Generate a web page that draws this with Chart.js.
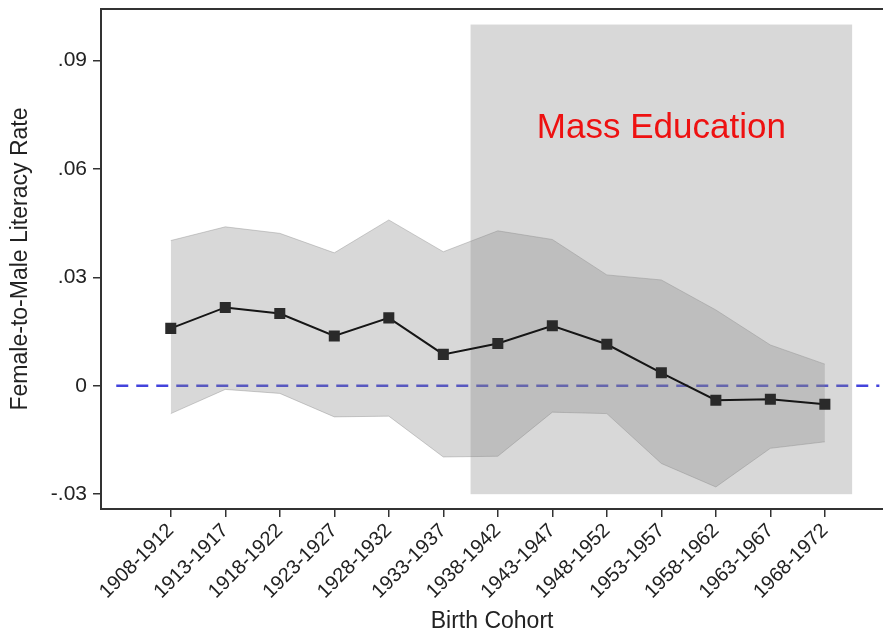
<!DOCTYPE html>
<html>
<head>
<meta charset="utf-8">
<script src="https://cdn.jsdelivr.net/npm/chart.js@4"></script>
<style>
  html, body { margin: 0; padding: 0; background: #ffffff; overflow: hidden; }
  #wrap { width: 883px; height: 636px; position: relative; overflow: hidden; }
  #chart { position: absolute; left: 0; top: 0; }
</style>
</head>
<body>
<div id="wrap"><canvas id="chart" width="891" height="636"></canvas></div>
<script>
// Birth cohorts on the horizontal axis
const cohorts = ['1908-1912', '1913-1917', '1918-1922', '1923-1927', '1928-1932', '1933-1937',
  '1938-1942', '1943-1947', '1948-1952', '1953-1957', '1958-1962', '1963-1967', '1968-1972'];

// Point estimates with the upper and lower confidence bounds
const estimate = [0.0159, 0.0217, 0.0200, 0.0138, 0.0188, 0.0087, 0.0117, 0.0166, 0.0115, 0.0036, -0.0040, -0.0037, -0.0051];
const upperCI  = [0.0402, 0.0440, 0.0422, 0.0368, 0.0459, 0.0371, 0.0429, 0.0405, 0.0307, 0.0293, 0.0210, 0.0113, 0.0060];
const lowerCI  = [-0.0077, -0.0010, -0.0021, -0.0086, -0.0084, -0.0197, -0.0195, -0.0073, -0.0077, -0.0215, -0.0280, -0.0173, -0.0155];

// Y axis ticks
const yTicks = [-0.03, 0, 0.03, 0.06, 0.09];

// Shaded "Mass Education" period (cohort index span, value span)
const massEduCohortSpan = [5.5, 12.5];
const massEduValueSpan = [-0.03, 0.10];
const massEduLabel = 'Mass Education';

const FONT = '"Liberation Sans", Arial, Helvetica, sans-serif';

const toPoints = arr => arr.map((v, i) => ({ x: i, y: v }));

function fmtTick(v) {
  if (Math.abs(v) < 1e-9) return '0';
  const s = v.toFixed(2);
  return s.replace(/^(-?)0\./, '$1.');
}

// Shaded period box and its label, drawn just before the estimate line
const massEduPlugin = {
  id: 'massEdu',
  beforeDatasetDraw(chart, args) {
    if (args.index !== 3) return;
    const { ctx, scales: { x, y } } = chart;
    const x0 = x.getPixelForValue(massEduCohortSpan[0]);
    const x1 = x.getPixelForValue(massEduCohortSpan[1]);
    const y0 = y.getPixelForValue(massEduValueSpan[1]);
    const y1 = y.getPixelForValue(massEduValueSpan[0]);
    ctx.save();
    ctx.fillStyle = 'rgba(135,135,135,0.32)';
    ctx.fillRect(x0, y0, x1 - x0, y1 - y0);
    ctx.fillStyle = '#ee1111';
    ctx.font = '35px ' + FONT;
    ctx.textAlign = 'center';
    ctx.textBaseline = 'alphabetic';
    const cx = x.getPixelForValue((massEduCohortSpan[0] + massEduCohortSpan[1]) / 2);
    ctx.fillText(massEduLabel, cx, y.getPixelForValue(0.0685));
    ctx.restore();
  },
  afterDraw(chart) {
    const { ctx, chartArea } = chart;
    ctx.save();
    ctx.strokeStyle = '#333333';
    ctx.lineWidth = 2;
    ctx.beginPath();
    ctx.moveTo(chartArea.left, chartArea.top);
    ctx.lineTo(chartArea.right, chartArea.top);
    ctx.stroke();
    ctx.restore();
  }
};

new Chart(document.getElementById('chart'), {
  type: 'line',
  data: {
    datasets: [
      {
        // zero reference line
        data: [{ x: -1, y: 0 }, { x: 13, y: 0 }],
        borderColor: '#4343dc',
        borderWidth: 2.5,
        borderDash: [12, 8],
        pointRadius: 0,
        fill: false,
        order: 5
      },
      {
        data: toPoints(lowerCI),
        borderColor: 'rgba(150,150,150,0.45)',
        borderWidth: 1,
        pointRadius: 0,
        fill: false,
        order: 4
      },
      {
        data: toPoints(upperCI),
        borderColor: 'rgba(150,150,150,0.45)',
        borderWidth: 1,
        backgroundColor: 'rgba(135,135,135,0.32)',
        pointRadius: 0,
        fill: '-1',
        order: 3
      },
      {
        data: toPoints(estimate),
        borderColor: '#161616',
        borderWidth: 2,
        pointStyle: 'rect',
        pointRadius: 7.8,
        pointBackgroundColor: '#2a2a2a',
        pointBorderWidth: 0,
        fill: false,
        order: 1
      }
    ]
  },
  options: {
    responsive: false,
    animation: false,
    events: [],
    layout: { padding: { top: 9, right: 0, left: 0, bottom: 0 } },
    plugins: {
      legend: { display: false },
      tooltip: { enabled: false }
    },
    scales: {
      x: {
        type: 'linear',
        min: -1.28,
        max: 13.07,
        afterFit(scale) {
          scale.height = 127;
          scale.paddingLeft = 0;
          scale.paddingRight = 0;
        },
        afterBuildTicks(scale) { scale.ticks = cohorts.map((_, i) => ({ value: i })); },
        grid: { drawOnChartArea: false, drawTicks: true, tickLength: 8, color: '#333333', lineWidth: 1.5 },
        border: { display: true, color: '#333333', width: 2 },
        ticks: {
          autoSkip: false,
          minRotation: 45,
          maxRotation: 45,
          padding: 2,
          color: '#222222',
          font: { family: FONT, size: 20 },
          callback: v => cohorts[v]
        },
        title: {
          display: true,
          text: 'Birth Cohort',
          color: '#222222',
          font: { family: FONT, size: 23 },
          padding: { top: 0, bottom: 1 }
        }
      },
      y: {
        type: 'linear',
        min: -0.0341,
        max: 0.1043,
        afterFit(scale) {
          scale.width = 101;
          scale.paddingTop = 0;
          scale.paddingBottom = 0;
        },
        afterBuildTicks(scale) { scale.ticks = yTicks.map(v => ({ value: v })); },
        grid: { drawOnChartArea: false, drawTicks: true, tickLength: 8, color: '#333333', lineWidth: 1.5 },
        border: { display: true, color: '#333333', width: 2 },
        ticks: {
          padding: 6,
          color: '#222222',
          font: { family: FONT, size: 21 },
          callback: v => fmtTick(v)
        },
        title: {
          display: true,
          text: 'Female-to-Male Literacy Rate',
          color: '#222222',
          font: { family: FONT, size: 23 },
          padding: { top: 7, bottom: 0 }
        }
      }
    }
  },
  plugins: [massEduPlugin]
});
</script>
</body>
</html>
